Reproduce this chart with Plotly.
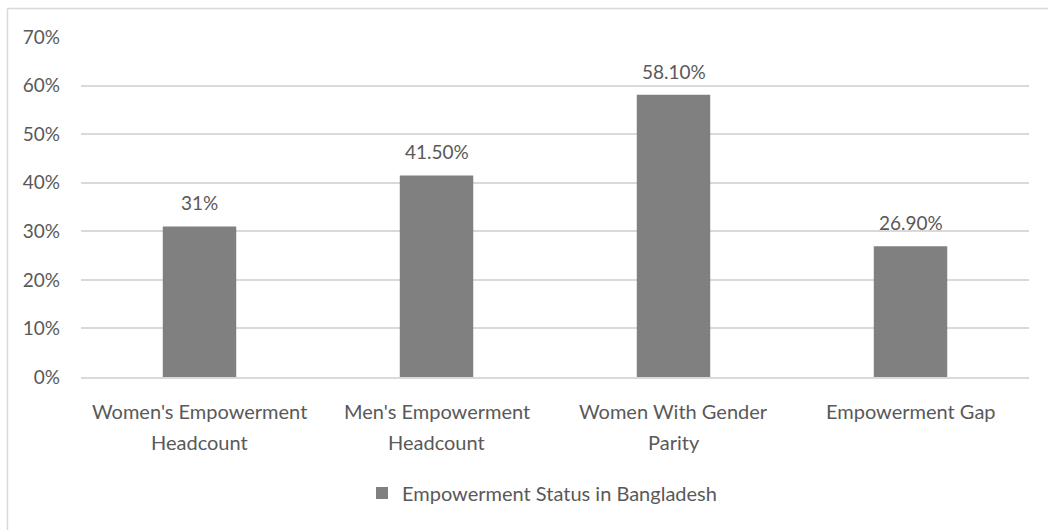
import plotly.graph_objects as go

categories = ["Women's Empowerment<br>Headcount", "Men's Empowerment<br>Headcount",
              "Women With Gender<br>Parity", "Empowerment Gap"]
values = [31, 41.5, 58.1, 26.9]
value_labels = ["31%", "41.50%", "58.10%", "26.90%"]
series_name = "Empowerment Status in Bangladesh"
tick_vals = [0, 10, 20, 30, 40, 50, 60, 70]
tick_text = ["0%", "10%", "20%", "30%", "40%", "50%", "60%", "70%"]

FONT = "Lato"
TXT = "#595959"

fig = go.Figure()
fig.add_trace(go.Bar(x=categories, y=values, name=series_name,
                     marker=dict(color="#808080", line=dict(width=0)),
                     width=0.31, showlegend=True))

for c, v, t in zip(categories, values, value_labels):
    fig.add_annotation(x=c, y=v, text=t, showarrow=False, yanchor="bottom",
                       yshift=10, font=dict(family=FONT, size=19, color=TXT))

# category labels, one annotation per line for Excel-like line spacing
for c in categories:
    for i, line in enumerate(c.split("<br>")):
        fig.add_annotation(x=c, y=0, text=line, showarrow=False, yanchor="middle",
                           yshift=-34 - 31 * i,
                           font=dict(family=FONT, size=20, color=TXT))

W, H = 1048, 530
ml, mr, mt, mb = 81, 19, 37, 153
pw, ph = W - ml - mr, H - mt - mb

def px_x(p):
    return (p - ml) / pw

def px_y(p):
    return 1 - (p - mt) / ph

fig.add_shape(type="line", xref="paper", yref="paper",
              x0=px_x(7.5), x1=px_x(7.5), y0=px_y(8.5), y1=px_y(540),
              line=dict(color="#d9d9d9", width=1.5))
fig.add_shape(type="line", xref="paper", yref="paper",
              x0=px_x(7.5), x1=px_x(1060), y0=px_y(8.5), y1=px_y(8.5),
              line=dict(color="#d9d9d9", width=1.5))

fig.update_layout(
    width=W, height=H,
    margin=dict(l=ml, r=mr, t=mt, b=mb),
    paper_bgcolor="white", plot_bgcolor="white",
    font=dict(family=FONT, size=19, color=TXT),
    bargap=0.69,
    xaxis=dict(showgrid=False, showline=True, linecolor="#d9d9d9", linewidth=2,
               ticks="", showticklabels=False),
    yaxis=dict(range=[0, 70], tickvals=tick_vals, ticktext=tick_text,
               showgrid=True, gridcolor="#d9d9d9", gridwidth=1.5,
               zeroline=False, showline=False, ticks="",
               ticklabelstandoff=20,
               tickfont=dict(family=FONT, size=19, color=TXT)),
    legend=dict(orientation="h", x=px_x(542), xanchor="center", y=px_y(493), yanchor="middle",
                font=dict(family=FONT, size=20, color=TXT), itemwidth=30),
)

fig.write_html("out.html")
